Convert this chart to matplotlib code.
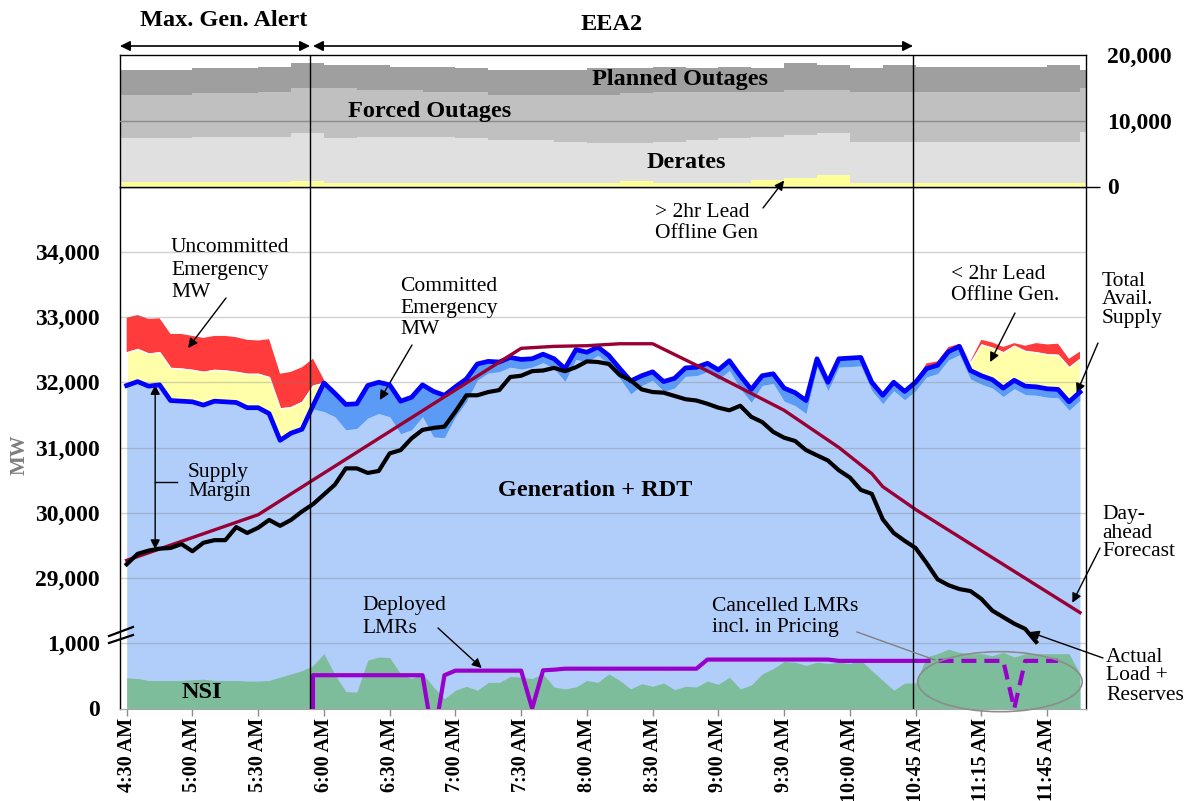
import numpy as np
import matplotlib
matplotlib.use('Agg')
import matplotlib.pyplot as plt
from matplotlib.patches import Ellipse, FancyArrowPatch
from matplotlib.lines import Line2D

# Times-like serif for everything
plt.rcParams['font.family'] = ['Liberation Serif', 'DejaVu Serif']

# ========== 1. data (one point per interval, 88 intervals) ==========
time_labels = ['4:30 AM', '5:00 AM', '5:30 AM', '6:00 AM', '6:30 AM', '7:00 AM', '7:30 AM',
               '8:00 AM', '8:30 AM', '9:00 AM', '9:30 AM', '10:00 AM', '10:45 AM',
               '11:15 AM', '11:45 AM']
y_tick_labels = ['0', '1,000', '29,000', '30,000', '31,000', '32,000', '33,000', '34,000']

# total available supply (blue line), MW
total_supply = [31950, 32010, 31940, 31960, 31720, 31710, 31700, 31650, 31710, 31700,
                31690, 31610, 31610, 31520, 31110, 31220, 31280, 31640, 31990, 31830,
                31660, 31670, 31950, 32000, 31960, 31710, 31770, 31960, 31860, 31800,
                31930, 32050, 32280, 32320, 32310, 32380, 32350, 32360, 32430, 32360,
                32210, 32500, 32460, 32540, 32410, 32210, 32020, 32100, 32160, 32010,
                32060, 32220, 32230, 32290, 32190, 32330, 32100, 31890, 32100, 32130,
                31910, 31840, 31720, 32360, 32000, 32360, 32370, 32380, 32000, 31800,
                32000, 31860, 32000, 32210, 32260, 32470, 32550, 32180, 32100, 32040,
                31910, 32030, 31940, 31930, 31900, 31890, 31700, 31850]

# committed emergency MW (dark blue band under the blue line)
committed_mw = [0, 0, 0, 0, 0, 0, 0, 0, 0, 0,
                0, 0, 0, 0, 0, 0, 0, 50, 440, 360,
                390, 380, 500, 480, 490, 500, 500, 490, 700, 650,
                460, 350, 250, 180, 150, 150, 150, 130, 130, 150,
                200, 150, 150, 130, 130, 150, 200, 150, 130, 150,
                150, 130, 130, 130, 150, 150, 200, 200, 150, 150,
                200, 200, 200, 130, 130, 130, 130, 130, 130, 130,
                130, 130, 130, 130, 130, 130, 130, 130, 130, 130,
                130, 130, 130, 130, 130, 130, 130, 130]

# < 2hr lead offline gen (yellow) and uncommitted emergency MW (red)
early_start = 0
lead_early = [510, 500, 500, 500, 500, 500, 490, 510, 480, 480,
              470, 520, 520, 560, 490, 400, 420, 310, 0]
unc_early = [530, 520, 530, 520, 520, 530, 520, 520, 520, 530,
             530, 520, 510, 580, 530, 540, 530, 410, 50]
late_start = 72
lead_late = [0, 30, 20, 20, 10, 120, 480, 490, 550, 530, 540, 530, 530, 530, 530, 510]
unc_late = [20, 50, 40, 50, 30, 20, 70, 80, 80, 40, 80, 140, 150, 170, 130, 110]

# actual load + reserves (black)
load_mw = [29210, 29370, 29420, 29450, 29460, 29520, 29410, 29540, 29580, 29580,
           29780, 29690, 29770, 29890, 29800, 29890, 30020, 30130, 30280, 30430,
           30680, 30680, 30610, 30640, 30910, 30960, 31140, 31270, 31300, 31320,
           31550, 31800, 31800, 31850, 31880, 32080, 32100, 32170, 32180, 32220,
           32170, 32230, 32320, 32310, 32280, 32110, 32030, 31890, 31850, 31840,
           31790, 31740, 31720, 31670, 31610, 31570, 31640, 31470, 31390, 31240,
           31150, 31100, 30960, 30880, 30800, 30650, 30540, 30350, 30290, 29900,
           29690, 29570, 29460, 29230, 28980, 28890, 28830, 28800, 28680, 28500,
           28400, 28300, 28220, 28020]

# day-ahead forecast (break points)
forecast_x = [0, 12, 36, 39, 42, 45, 48, 52, 60, 65, 68, 69, 72, 87]
forecast_mw = [29270, 29970, 32520, 32550, 32560, 32590, 32590, 32260, 31570, 31000,
               30600, 30400, 30050, 28470]

# NSI (green, 0-1,000 band)
nsi_mw = [470, 460, 430, 430, 430, 430, 440, 450, 430, 430,
          430, 420, 420, 430, 480, 530, 580, 660, 840, 520,
          260, 250, 740, 790, 780, 530, 460, 540, 330, 150,
          280, 340, 280, 400, 400, 490, 480, 460, 530, 330,
          300, 330, 430, 400, 530, 430, 300, 380, 340, 390,
          290, 340, 330, 420, 370, 480, 300, 360, 530, 610,
          720, 710, 660, 710, 690, 710, 690, 740, 580, 430,
          280, 390, 390, 790, 840, 910, 860, 840, 840, 810,
          860, 790, 840, 840, 840, 840, 840, 530]

# deployed LMRs (solid purple) and cancelled LMRs (dashed)
lmr_start = 17
lmr_deployed = [510, 510, 510, 510, 510, 510, 510, 510, 510, 510,
                510, -500, 510, 580, 580, 580, 580, 580, 580, 580,
                0, 585, 595, 610, 610, 610, 610, 610, 610, 610,
                610, 610, 610, 610, 610, 610, 750, 750, 750, 750,
                750, 750, 750, 750, 750, 750, 750, 750, 730, 730,
                730, 730, 730, 730, 730, 730]
cancel_start = 72
lmr_cancelled = [730, 730, 730, 730, 730, 730, 730, 730, 730, 0, 730, 730, 730, 730]

# top panel: outages, one value every 3 intervals
top_step = 3
gt2h_lead = [730, 730, 730, 730, 730, 900, 480, 480, 480, 480, 480, 480, 480, 480, 480,
             800, 480, 480, 480, 990, 1240, 1740, 480, 480, 480, 480, 480, 480, 480, 480]
derates = [6570, 6570, 6820, 6820, 6820, 7160, 6820, 7070, 7070, 7070, 6820, 6570, 6570,
           6320, 6060, 5740, 6320, 6570, 6820, 6560, 6560, 6320, 6310, 6310, 6310, 6310,
           6310, 6310, 6310, 7820]
forced = [6560, 6560, 6570, 6570, 6810, 6820, 7580, 7070, 7070, 6810, 7060, 6810, 6810,
          7060, 7320, 7580, 7560, 7310, 7060, 6810, 6820, 6560, 7570, 7570, 7570, 7570,
          7570, 7570, 7570, 6580]
planned = [3790, 3790, 3780, 3780, 3790, 3770, 3520, 3780, 3530, 3790, 3540, 3790, 3790,
           3790, 4040, 3780, 3790, 3540, 3790, 3540, 4030, 3780, 3540, 4040, 3790, 3790,
           3790, 3790, 4040, 2770]

# ========== 2. layout ==========
W, H = 1193, 801
OFFSET = 27000          # upper MW values shifted down: 29,000 sits right above the 0-1,000 band
X0, X1 = -0.61, 87.55   # x range of the plot box

def fp(px, py):
    # figure-fraction position from pixel position (top-left origin)
    return px / W, 1 - py / H

fig = plt.figure(figsize=(W / 100, H / 100), dpi=100)
ax = fig.add_axes([120 / W, 1 - 708.5 / H, 966 / W, 522 / H])
axt = fig.add_axes([120 / W, 1 - 186.5 / H, 966 / W, 132 / H], sharex=ax)

# ========== 3. main panel ==========
x = np.arange(len(total_supply))
supply = np.array(total_supply)
gen = supply - np.array(committed_mw)

ax.fill_between(x, 0, gen - OFFSET, color='#b1cefa', lw=0, zorder=1)
ax.fill_between(x, gen - OFFSET, supply - OFFSET, color='#5b9bf5', lw=0, zorder=1)
ax.fill_between(x, 0, nsi_mw, color='#7dbd9b', lw=0, zorder=1.5)

for start, lead, unc in [(early_start, lead_early, unc_early), (late_start, lead_late, unc_late)]:
    xs = np.arange(len(lead)) + start
    base = supply[xs] - OFFSET
    top1 = base + np.array(lead)
    top2 = top1 + np.array(unc)
    ax.fill_between(xs, top1, top2, facecolor='#ff3b3b', lw=0, zorder=2)
    ax.fill_between(xs, base, top1, facecolor='#ffffaa', edgecolor='white', lw=1, zorder=2.1)

for v in range(1000, 8000, 1000):
    ax.axhline(v, color='#7f7f7f', alpha=0.35, lw=1, zorder=2.5)

ax.plot(x, supply - OFFSET, color='#0000ff', lw=3.4, zorder=4)
ax.plot(forecast_x, np.array(forecast_mw) - OFFSET, color='#990033', lw=2.4, zorder=5)
ax.plot(np.arange(len(load_mw)), np.array(load_mw) - OFFSET, color='black', lw=3.0, zorder=6)

lx = np.r_[lmr_start, np.arange(len(lmr_deployed)) + lmr_start]
ly = np.r_[0, lmr_deployed]
ax.plot(lx, ly, color='#9900cc', lw=3, zorder=5)
ax.plot(np.arange(len(lmr_cancelled)) + cancel_start, lmr_cancelled, color='#9900cc', lw=3,
        ls=(0, (3.6, 1.9)), zorder=5)

ax.add_patch(Ellipse((79.7, 411), 15.0, 920, fill=False, edgecolor='#8c8c8c', lw=1.2,
                     zorder=7, clip_on=False))

for v in [16.75, 71.75]:
    ax.axvline(v, color='black', lw=1, zorder=8)
    axt.axvline(v, color='black', lw=1, zorder=8)

ax.set_xlim(X0, X1)
ax.set_ylim(0, 8000)
ax.set_yticks(np.arange(len(y_tick_labels)) * 1000, y_tick_labels)
ax.tick_params(axis='y', length=0, pad=14.5, labelsize=17)
ax.set_xticks(np.arange(len(time_labels)) * 6, time_labels, rotation=90)
ax.tick_params(axis='x', length=5, width=1, color='#8c8c8c', pad=2, labelsize=14.5)
for lbl in ax.get_xticklabels() + ax.get_yticklabels():
    lbl.set_fontweight('bold')
for s in ['left', 'right', 'top']:
    ax.spines[s].set_color('black')
    ax.spines[s].set_linewidth(1)
ax.spines['bottom'].set_color('#a6a6a6')

# ========== 4. top panel (outages) ==========
top_x = np.arange(len(planned)) * top_step
xe = np.append(top_x, X1).astype(float)
xe[0] = X0
cum = np.zeros(len(xe))
for vals, c in [(gt2h_lead, '#ffff99'), (derates, '#e0e0e0'), (forced, '#c0c0c0'),
                (planned, '#a09fa0')]:
    v = np.append(vals, vals[-1])
    axt.fill_between(xe, cum, cum + v, step='post', color=c, lw=0, zorder=1)
    cum = cum + v
axt.axhline(10000, color='#8c8c8c', lw=1, zorder=3)
axt.set_ylim(0, 20000)
axt.yaxis.tick_right()
axt.set_yticks([0, 10000, 20000], ['0', '10,000', '20,000'])
axt.tick_params(axis='y', length=10, width=1, pad=5, labelsize=17)
for lbl in axt.get_yticklabels():
    lbl.set_fontweight('bold')
for t in axt.yaxis.get_major_ticks()[1:]:
    t.tick2line.set_visible(False)
axt.tick_params(axis='x', bottom=False, labelbottom=False)
for s in axt.spines.values():
    s.set_color('black')
    s.set_linewidth(1)

# ========== 5. texts & arrows ==========
def label(px, py, s, size=15.5, weight='normal', ha='left', ls=1.2, color='black', **kw):
    fig.text(*fp(px, py), s, fontsize=size, fontweight=weight, ha=ha, va='center',
             linespacing=ls, color=color, **kw)

def arrow(axis, xy, px, py, style='-|>'):
    axis.annotate('', xy=xy, xytext=(px, H - py), textcoords='figure pixels',
                  arrowprops=dict(arrowstyle=style, color='black', lw=1, mutation_scale=14,
                                  shrinkA=0, shrinkB=0))

label(224, 20, 'Max. Gen. Alert', size=17.5, weight='bold', ha='center')
label(612, 25, 'EEA2', size=17.5, weight='bold', ha='center')
for a, b in [(120, 310), (313, 913)]:
    fig.add_artist(FancyArrowPatch(fp(a, 46), fp(b, 46), transform=fig.transFigure,
                                   arrowstyle='<|-|>', mutation_scale=15, lw=1.2,
                                   color='black', shrinkA=0, shrinkB=0))

label(680, 80, 'Planned Outages', size=17.5, weight='bold', ha='center')
label(430, 111, 'Forced Outages', size=17.5, weight='bold', ha='center')
label(686, 163, 'Derates', size=17.5, weight='bold', ha='center')

label(595, 490, 'Generation + RDT', size=17.5, weight='bold', ha='center')
label(202, 693, 'NSI', size=17.5, weight='bold', ha='center')
label(20, 455, 'MW', size=15, weight='bold', ha='center', color='#7f7f7f', rotation=90)

label(171, 270, 'Uncommitted\nEmergency\nMW', ls=1.25)
arrow(ax, (5.6, 5525), 226, 298)
label(400, 308, 'Committed\nEmergency\nMW', ls=1.2)
arrow(ax, (23.1, 4728), 412, 345)
label(655, 223, '> 2hr Lead\nOffline Gen', ls=1.2)
arrow(axt, (60, 900), 763, 208)
label(951, 285, '< 2hr Lead\nOffline Gen.', ls=1.2)
arrow(ax, (78.8, 5310), 1015, 313)
label(1102, 300, 'Total\nAvail.\nSupply', ls=1.0)
arrow(ax, (86.7, 4835), 1098, 343)
label(1102, 533, 'Day-\nahead\nForecast', ls=0.95)
arrow(ax, (86.3, 1620), 1100, 548)
label(1106, 676, 'Actual\nLoad +\nReserves', ls=1.0)
arrow(ax, (82.4, 1172), 1103, 658)
label(362, 617, 'Deployed\nLMRs', ls=1.3)
arrow(ax, (32.4, 620), 438, 628)
label(712, 617, 'Cancelled LMRs\nincl. in Pricing', ls=1.2)
fig.add_artist(Line2D([857 / W, 935 / W], [1 - 632 / H, 1 - 660 / H], color='#808080', lw=1))

# supply margin
label(188, 482, 'Supply\nMargin', ls=1.0)
ax.annotate('', xy=(2.6, 4960), xytext=(2.6, 2440),
            arrowprops=dict(arrowstyle='<|-|>', color='black', lw=1, mutation_scale=14,
                            shrinkA=0, shrinkB=0))
fig.add_artist(Line2D([155 / W, 177 / W], [1 - 482 / H, 1 - 482 / H], color='black', lw=1))

# axis break marks
for y0, y1 in [(636, 627), (643, 635)]:
    fig.add_artist(Line2D([109 / W, 133 / W], [1 - y0 / H, 1 - y1 / H], color='black', lw=1.6))

fig.savefig('out.png', dpi=100)
